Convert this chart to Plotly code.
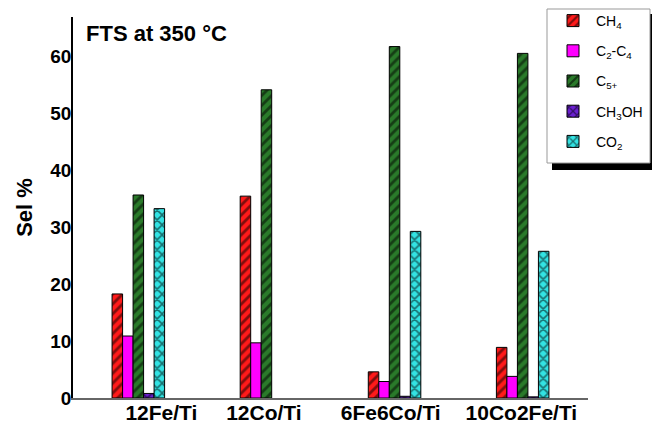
import plotly.graph_objects as go

catalysts = ["12Fe/Ti", "12Co/Ti", "6Fe6Co/Ti", "10Co2Fe/Ti"]
group_pos = [1, 2, 3, 4]
label_pos = [1.18, 1.98, 2.97, 3.99]

series_names = ["CH<sub>4</sub>", "C<sub>2</sub>-C<sub>4</sub>", "C<sub>5+</sub>",
                "CH<sub>3</sub>OH", "CO<sub>2</sub>"]
ch4 = [18.3, 35.5, 4.6, 8.9]
c2c4 = [10.9, 9.7, 2.9, 3.8]
c5p = [35.7, 54.2, 61.8, 60.6]
ch3oh = [0.8, None, 0.3, 0.2]
co2 = [33.3, None, 29.3, 25.8]

values = [ch4, c2c4, c5p, ch3oh, co2]
colors = ["#ff1a1a", "#ff00ff", "#2a7a2a", "#6a1fd0", "#33e3e3"]
patterns = ["/", "", "/", "x", "x"]

fig = go.Figure()
for name, vals, col, pat in zip(series_names, values, colors, patterns):
    fig.add_trace(go.Bar(
        x=group_pos, y=vals, name=name, legendgroup=name,
        marker=dict(color=col, line=dict(color="black", width=1),
                    pattern=dict(shape=pat, fgcolor="black", bgcolor=col,
                                 size=7, solidity=0.4, fillmode="overlay") if pat else None),
    ))

FONT = "Arial, Liberation Sans, sans-serif"

fig.update_layout(
    width=652, height=426,
    margin=dict(l=73, r=64, t=17, b=28, autoexpand=False),
    paper_bgcolor="white", plot_bgcolor="white",
    barmode="group", bargap=0.59, bargroupgap=0,
    font=dict(family=FONT, color="black"),
    showlegend=True,
    legend=dict(xref="container", yref="container", x=550 / 652, y=1 - 5 / 426,
                xanchor="left", yanchor="top",
                bgcolor="rgba(0,0,0,0)", borderwidth=0,
                font=dict(size=14, family=FONT),
                traceorder="grouped", tracegroupgap=9, itemwidth=36),
    xaxis=dict(range=[0.49, 4.51], tickvals=label_pos, ticktext=catalysts,
               showline=True, linecolor="#666666", linewidth=1.5,
               showgrid=False, zeroline=False, ticks="", automargin=False,
               ticklabelstandoff=-5,
               tickfont=dict(size=21, family=FONT, weight="bold")),
    yaxis=dict(range=[0, 67], tickvals=[0, 10, 20, 30, 40, 50, 60],
               showline=True, linecolor="black", linewidth=1.5,
               showgrid=False, zeroline=False, ticks="", automargin=False,
               ticklabelstandoff=-4,
               tickfont=dict(size=19, family=FONT, weight="bold"),
               title=dict(text="Sel %", font=dict(size=22, family=FONT, weight="bold"),
                          standoff=12)),
    shapes=[
        dict(type="rect", xref="paper", yref="paper",
             x0=(552 - 73) / 515, x1=(652 - 73) / 515,
             y0=(398 - 170) / 381, y1=(398 - 14) / 381,
             fillcolor="black", line=dict(width=0), layer="above"),
        dict(type="rect", xref="paper", yref="paper",
             x0=(547 - 73) / 515, x1=(650 - 73) / 515,
             y0=(398 - 163) / 381, y1=(398 - 9) / 381,
             fillcolor="white", line=dict(color="#999999", width=1), layer="above"),
    ],
    annotations=[dict(text="FTS at 350 °C", xref="paper", yref="paper",
                      x=(84 - 73) / 515, y=(398 - 34) / 381, xanchor="left", yanchor="middle",
                      showarrow=False, font=dict(size=22, family=FONT, weight="bold"))],
)

fig.write_html("out.html")
